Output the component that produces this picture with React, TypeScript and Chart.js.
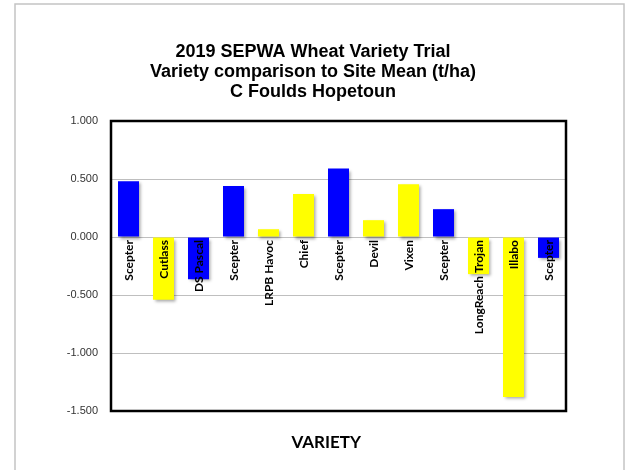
import React, { useEffect, useRef } from "react";
import { Chart, registerables } from "chart.js";

Chart.register(...registerables);

const varieties = [
  "Scepter", "Cutlass", "DS Pascal", "Scepter", "LRPB Havoc", "Chief", "Scepter",
  "Devil", "Vixen", "Scepter", "LongReach Trojan", "Illabo", "Scepter",
];
const diffFromMean = [0.48, -0.54, -0.365, 0.44, 0.067, 0.37, 0.59, 0.145, 0.455, 0.24, -0.32, -1.38, -0.18];
const blueVarieties = ["Scepter", "DS Pascal"];
const yTicks = [-1.5, -1.0, -0.5, 0, 0.5, 1.0];
const titleLines = ["2019 SEPWA Wheat Variety Trial", "Variety comparison to Site Mean (t/ha)", "C Foulds Hopetoun"];
const xTitle = "VARIETY";

const BLUE = "#0000FF";
const YELLOW = "#FFFF00";

export default function App() {
  const ref = useRef<HTMLCanvasElement | null>(null);

  useEffect(() => {
    if (!ref.current) return;

    const frame = {
      id: "frame",
      beforeDraw(chart: any) {
        const ctx = chart.ctx;
        ctx.save();
        ctx.fillStyle = "#ffffff";
        ctx.fillRect(0, 0, chart.width, chart.height);
        ctx.strokeStyle = "#c4c4c4";
        ctx.lineWidth = 1.5;
        ctx.strokeRect(15, 4, 609, 520);
        ctx.restore();
      },
    };

    const shadow = {
      id: "barShadow",
      beforeDatasetDraw(chart: any) {
        const ctx = chart.ctx;
        ctx.save();
        ctx.shadowColor = "rgba(0,0,0,0.35)";
        ctx.shadowBlur = 3;
        ctx.shadowOffsetX = 1.5;
        ctx.shadowOffsetY = 2;
      },
      afterDatasetDraw(chart: any) {
        chart.ctx.restore();
      },
    };

    const labels = {
      id: "zeroLabels",
      afterDatasetsDraw(chart: any) {
        const ctx = chart.ctx;
        const xs = chart.scales.x;
        const ys = chart.scales.y;
        const y0 = ys.getPixelForValue(0);
        ctx.save();
        ctx.font = "bold 12px Lato";
        ctx.fillStyle = "#000000";
        ctx.textAlign = "right";
        ctx.textBaseline = "middle";
        varieties.forEach((v, i) => {
          const x = xs.getPixelForValue(i);
          ctx.save();
          ctx.translate(x + 1, y0 + 3);
          ctx.rotate(-Math.PI / 2);
          ctx.fillText(v, 0, 0);
          ctx.restore();
        });
        const a = chart.chartArea;
        ctx.strokeStyle = "#000000";
        ctx.lineWidth = 2.5;
        ctx.strokeRect(a.left, a.top, a.right - a.left, a.bottom - a.top);
        // axis title
        ctx.font = "bold 17px Lato";
        ctx.textAlign = "center";
        ctx.textBaseline = "middle";
        ctx.fillText(xTitle, a.left + (a.right - a.left) * 0.473, a.bottom + 32);
        ctx.restore();
      },
    };

    const chart = new Chart(ref.current, {
      type: "bar",
      data: {
        labels: varieties,
        datasets: [
          {
            data: diffFromMean,
            backgroundColor: varieties.map((v) => (blueVarieties.includes(v) ? BLUE : YELLOW)),
            borderWidth: 0,
            barPercentage: 0.6,
            categoryPercentage: 1,
          },
        ],
      },
      options: {
        animation: false,
        responsive: false,
        maintainAspectRatio: false,
        layout: { padding: { left: 15, right: 17, top: 0, bottom: 0 } },
        plugins: {
          legend: { display: false },
          tooltip: { enabled: false },
          title: {
            display: true,
            text: titleLines,
            color: "#000000",
            font: { family: "Liberation Sans", size: 18, weight: "bold", lineHeight: 20 / 18 },
            padding: { top: 42, bottom: 19 },
          },
        },
        scales: {
          x: {
            type: "category",
            grid: { display: false, drawTicks: false },
            border: { display: false },
            ticks: { display: false },
            title: { display: false },
            afterFit(scale: any) {
              scale.height = 59;
            },
          },
          y: {
            min: -1.5,
            max: 1.0,
            afterBuildTicks(scale: any) {
              scale.ticks = yTicks.map((v) => ({ value: v }));
            },
            ticks: {
              padding: 13,
              color: "#333333",
              font: { family: "Liberation Sans", size: 11 },
              callback: (v: any) => Number(v).toFixed(3),
            },
            grid: { color: "#bfbfbf", lineWidth: 1, drawTicks: false },
            border: { display: false },
            afterFit(scale: any) {
              scale.width = 96;
            },
          },
          yRight: {
            type: "linear",
            position: "right",
            display: true,
            grid: { display: false, drawTicks: false },
            border: { display: false },
            ticks: { display: false },
            afterFit(scale: any) {
              scale.width = 45;
            },
          },
        },
      },
      plugins: [frame, shadow, labels],
    } as any);

    return () => chart.destroy();
  }, []);

  return (
    <div style={{ position: "fixed", left: 0, top: 0, width: 628, height: 470 }}>
      <canvas ref={ref} width={628} height={470} style={{ width: 628, height: 470 }} />
    </div>
  );
}
